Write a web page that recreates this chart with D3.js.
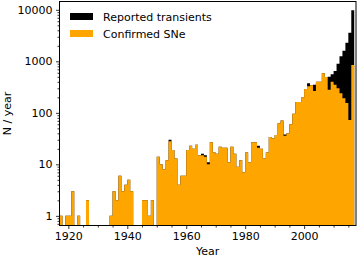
<!DOCTYPE html>
<html><head><meta charset="utf-8">
<script src="https://cdn.jsdelivr.net/npm/d3@7"></script>
<style>
html,body{margin:0;padding:0;background:#fff;}
svg{display:block;}
text{font-family:"DejaVu Sans",sans-serif;fill:#000;}
</style></head>
<body>
<svg id="chart" width="358" height="258"></svg>
<script>
const firstYear = 1917;
const years = d3.range(1917, 2017);
const confirmed = [
  1,0,1,1,3,0,1,0,0,2,
  0,0,0,0,0,0,0,1,3,2,
  6,3,4,5,3,0,0,0,2,2,
  1,2,0,14,10,8,12,28,19,13,
  4,6,6,19,23,20,24,15,15,14,
  10,27,17,16,22,21,21,11,22,16,
  9,12,7,17,11,27,27,21,20,13,
  17,34,32,37,63,71,36,40,60,96,
  162,162,198,290,330,345,265,400,400,590,
  495,280,400,350,300,240,193,155,73,850
];
const reported = [
  1,0,1,1,3,0,1,0,0,2,
  0,0,0,0,0,0,0,1,3,2,
  6,3,4,5,3,0,0,0,2,2,
  1,2,0,14,10,8,12,30,19,13,
  4,6,6,19,23,20,24,15,16,15,
  11,27,17,16,22,21,21,11,22,16,
  9,12,7,17,11,27,27,23,20,13,
  17,34,32,37,63,71,38,40,60,96,
  162,162,198,290,375,345,350,400,400,590,
  495,500,560,650,900,1250,1600,2300,3600,9800
];
const yTickValues = [1, 10, 100, 1000, 10000];
const xTickValues = [1920, 1940, 1960, 1980, 2000];
const legendLabels = ["Reported transients", "Confirmed SNe"];
const colors = {reported: "#000000", confirmed: "#ffa500"};

const svg = d3.select("#chart");
const L = 59.5, R = 356, T = 1.5, B = 225.5;

const x = d3.scaleLinear().domain([1917, 2017.6]).range([L, R]);
const y = d3.scaleLog().domain([0.65, 14500]).range([B, T]);

function stepPoints(vals) {
  const pts = [];
  years.forEach((yr, i) => {
    pts.push({x: yr, v: vals[i]});
    pts.push({x: yr + 1, v: vals[i]});
  });
  return pts;
}
const area = d3.area()
  .defined(d => d.v > 0)
  .x(d => x(d.x))
  .y0(B)
  .y1(d => y(d.v));

svg.append("defs").append("clipPath").attr("id", "clip")
  .append("rect").attr("x", L).attr("y", T).attr("width", R - L).attr("height", B - T);

const g = svg.append("g").attr("clip-path", "url(#clip)");
g.append("path").datum(stepPoints(reported)).attr("d", area).attr("fill", colors.reported);
g.append("path").datum(stepPoints(confirmed)).attr("d", area).attr("fill", colors.confirmed);

// x axis major
const xMajor = svg.append("g").attr("transform", `translate(0,${B})`)
  .call(d3.axisBottom(x).tickValues(xTickValues).tickFormat(d3.format("d")).tickSize(3.5).tickPadding(3.5));
const xMinorVals = d3.range(1920, 2018, 5).filter(v => !xTickValues.includes(v));
const xMinor = svg.append("g").attr("transform", `translate(0,${B})`)
  .call(d3.axisBottom(x).tickValues(xMinorVals).tickFormat("").tickSize(2));

// y axis
const yMinorVals = [];
for (let e = -1; e <= 4; e++) for (let m = 2; m <= 9; m++) {
  const v = m * Math.pow(10, e);
  if (v >= 0.65 && v <= 14500) yMinorVals.push(v);
}
const yMajor = svg.append("g").attr("transform", `translate(${L},0)`)
  .call(d3.axisLeft(y).tickValues(yTickValues).tickFormat(d3.format("d")).tickSize(3.5).tickPadding(3.5));
const yMinor = svg.append("g").attr("transform", `translate(${L},0)`)
  .call(d3.axisLeft(y).tickValues(yMinorVals).tickFormat("").tickSize(2));

[xMajor, xMinor, yMajor, yMinor].forEach(a => {
  a.select(".domain").remove();
  a.selectAll("line").attr("stroke", "#000").attr("stroke-width", 0.8);
  a.selectAll("text").style("font-family", "DejaVu Sans").style("font-size", "11px").attr("fill", "#000");
});

// frame
svg.append("rect").attr("x", L).attr("y", T).attr("width", R - L).attr("height", B - T)
  .attr("fill", "none").attr("stroke", "#000").attr("stroke-width", 1);

// axis labels
svg.append("text").attr("x", (L + R) / 2).attr("y", 255).attr("text-anchor", "middle")
  .style("font-size", "11px").text("Year");
svg.append("text").attr("transform", `translate(11,${(T + B) / 2}) rotate(-90)`)
  .attr("text-anchor", "middle").style("font-size", "11px").text("N / year");

// legend
const leg = svg.append("g");
[{c: colors.reported, t: legendLabels[0]}, {c: colors.confirmed, t: legendLabels[1]}].forEach((d, i) => {
  const yy = 13 + i * 17;
  leg.append("rect").attr("x", 70).attr("y", yy).attr("width", 23).attr("height", 7).attr("fill", d.c);
  leg.append("text").attr("x", 103).attr("y", yy + 7.5).style("font-size", "11px").text(d.t);
});
</script>
</body></html>
